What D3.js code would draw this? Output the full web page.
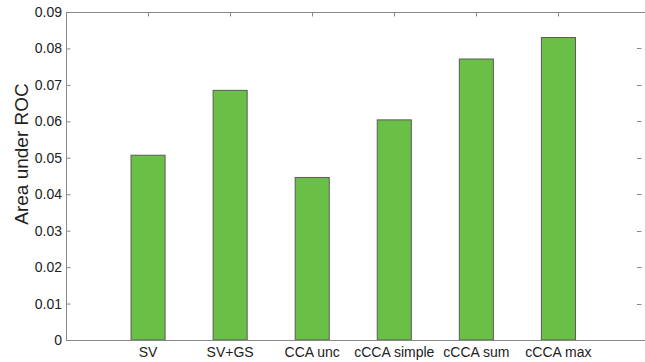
<!DOCTYPE html>
<html>
<head>
<meta charset="utf-8">
<script src="https://cdn.jsdelivr.net/npm/d3@7"></script>
<style>
  html, body { margin: 0; padding: 0; background: #fff; }
  svg { display: block; }
  text { font-family: "Liberation Sans", Arial, sans-serif; fill: #222; }
</style>
</head>
<body>
<svg id="chart" width="645" height="362"></svg>
<script>
// Area under ROC per method
const categories = ["SV", "SV+GS", "CCA unc", "cCCA simple", "cCCA sum", "cCCA max"];
const aucValues = [0.0507, 0.0685, 0.0446, 0.0604, 0.0771, 0.0830];
const yTicks = [0, 0.01, 0.02, 0.03, 0.04, 0.05, 0.06, 0.07, 0.08, 0.09];
const yTickLabels = ["0", "0.01", "0.02", "0.03", "0.04", "0.05", "0.06", "0.07", "0.08", "0.09"];

const svg = d3.select("#chart");
const plotLeft = 66, plotTop = 12, plotBottom = 340, frameRight = 648;

// categories sit at integer positions 1..6 on a 0..7 axis
const x = d3.scaleLinear().domain([0, 7]).range([plotLeft, 640.5]);
const y = d3.scaleLinear().domain([0, 0.09]).range([plotBottom, plotTop]);
const barW = 0.415 * (x(1) - x(0));
const axisColor = "#888";

// bars
svg.append("g").selectAll("rect")
  .data(aucValues)
  .join("rect")
  .attr("x", (d, i) => x(i + 1) - barW / 2)
  .attr("y", d => y(d))
  .attr("width", barW)
  .attr("height", d => y(0) - y(d))
  .attr("fill", "#6abf47")
  .attr("stroke", "#5a5a5a")
  .attr("stroke-width", 1);

// frame (right edge falls outside the view)
svg.append("rect")
  .attr("x", plotLeft + 0.5).attr("y", plotTop + 0.5)
  .attr("width", frameRight - plotLeft).attr("height", plotBottom - plotTop)
  .attr("fill", "none").attr("stroke", axisColor).attr("stroke-width", 1);

// left y axis with inward ticks
const yAxis = d3.axisLeft(y)
  .tickValues(yTicks)
  .tickFormat((d, i) => yTickLabels[i])
  .tickSizeInner(-4).tickSizeOuter(0).tickPadding(4.5);
const gy = svg.append("g").attr("transform", `translate(${plotLeft + 0.5},0)`).call(yAxis);
gy.select(".domain").remove();
gy.selectAll(".tick line").attr("stroke", axisColor);
gy.selectAll(".tick text").attr("font-size", 14).attr("fill", "#222")
  .attr("font-family", "Liberation Sans, Arial, sans-serif");

// right side inward ticks
svg.append("g").selectAll("line")
  .data(yTicks.slice(1, -1))
  .join("line")
  .attr("x1", 637).attr("x2", 641.5)
  .attr("y1", d => Math.round(y(d)) + 0.5).attr("y2", d => Math.round(y(d)) + 0.5)
  .attr("stroke", axisColor);

// top inward ticks at category positions
svg.append("g").selectAll("line")
  .data(categories)
  .join("line")
  .attr("x1", (d, i) => Math.round(x(i + 1)) + 0.5)
  .attr("x2", (d, i) => Math.round(x(i + 1)) + 0.5)
  .attr("y1", plotTop + 0.5).attr("y2", plotTop + 4.5)
  .attr("stroke", axisColor);

// category labels
svg.append("g").selectAll("text")
  .data(categories)
  .join("text")
  .attr("x", (d, i) => x(i + 1))
  .attr("y", 357)
  .attr("text-anchor", "middle")
  .attr("font-size", 14)
  .text(d => d);

// y axis title
svg.append("text")
  .attr("transform", "translate(28,154) rotate(-90)")
  .attr("text-anchor", "middle")
  .attr("font-size", 19)
  .text("Area under ROC");
</script>
</body>
</html>
